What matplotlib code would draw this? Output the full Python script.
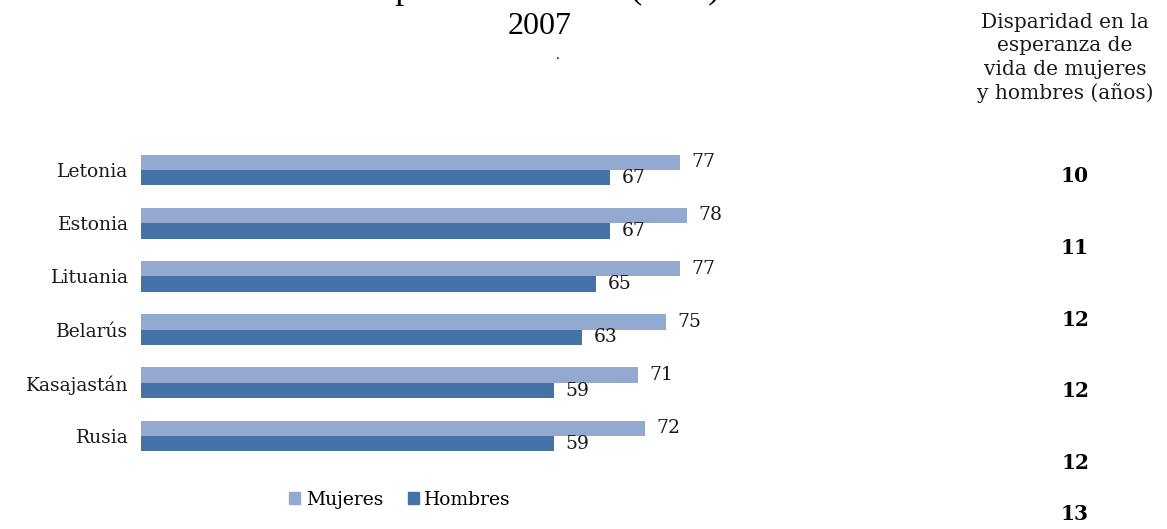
import numpy as np
from matplotlib import pyplot as plt
from matplotlib.patches import Patch

paises = ["Letonia", "Estonia", "Lituania", "Belarús", "Kasajastán", "Rusia"]
mujeres = [77, 78, 77, 75, 71, 72]
hombres = [67, 67, 65, 63, 59, 59]
disparidad = [10, 11, 12, 12, 12, 13]
disp_y = [176, 248, 320, 391, 463, 514]  # posiciones (px desde arriba) de la columna derecha

c_muj = "#93a9cf"
c_hom = "#4573a8"
serif = ["DejaVu Serif"]
times = ["Liberation Serif"]
fs = 13.5

W, H = 1167, 529
fig = plt.figure(figsize=(W / 100, H / 100), dpi=100)

# ejes: x=0 en px 141, 7 px por año; grupos cada 53.2 px
left, top = 141, 170 - 26.6
ax = fig.add_axes([left / W, 1 - (top + 6 * 53.2) / H, 700 / W, 6 * 53.2 / H])

y = np.arange(len(paises))
h = 0.29
ax.barh(y - h / 2, mujeres, height=h, color=c_muj)
ax.barh(y + h / 2, hombres, height=h, color=c_hom)
ax.set_xlim(0, 100)
ax.set_ylim(5.5, -0.5)

for i in range(len(paises)):
    ax.annotate(str(mujeres[i]), (mujeres[i], y[i] - h / 2), xytext=(8.5, 0),
                textcoords="offset points", va="center", ha="left",
                family=serif, fontsize=fs, color="#1a1a1a")
    ax.annotate(str(hombres[i]), (hombres[i], y[i] + h / 2), xytext=(8.5, 0),
                textcoords="offset points", va="center", ha="left",
                family=serif, fontsize=fs, color="#1a1a1a")

ax.set_yticks(y)
ax.set_yticklabels(paises, family=serif, fontsize=fs, color="#1a1a1a")
ax.tick_params(axis="y", length=0, pad=9)
ax.set_xticks([])
for s in ax.spines.values():
    s.set_visible(False)

handles = [Patch(color=c_muj, label="Mujeres"), Patch(color=c_hom, label="Hombres")]
fig.legend(handles=handles, loc="center", bbox_to_anchor=(400 / W, 1 - 500 / H),
           ncol=2, frameon=False, handlelength=0.6, handleheight=0.6,
           handletextpad=0.3, columnspacing=1.3,
           prop={"family": serif, "size": fs})

# titulo (cortado arriba en la imagen original)
fig.text(540 / W, 1 + 2.5 / H, "Esperanza de vida (años)", ha="center", va="baseline",
         family=times, fontsize=26)
fig.text(540 / W, 1 - 26 / H, "2007", ha="center", va="center", family=times, fontsize=23)
fig.text(558 / W, 1 - 59 / H, ".", ha="center", va="baseline", family=times, fontsize=11)

fig.text(1065 / W, 1 - 58 / H, "Disparidad en la\nesperanza de\nvida de mujeres\ny hombres (años)",
         ha="center", va="center", family=serif, fontsize=14.5, linespacing=1.3,
         color="#1a1a1a")
for v, py in zip(disparidad, disp_y):
    fig.text(1075 / W, 1 - py / H, str(v), ha="center", va="center",
             family=serif, fontsize=14.5, fontweight="bold")

plt.savefig("out.png", dpi=100)
